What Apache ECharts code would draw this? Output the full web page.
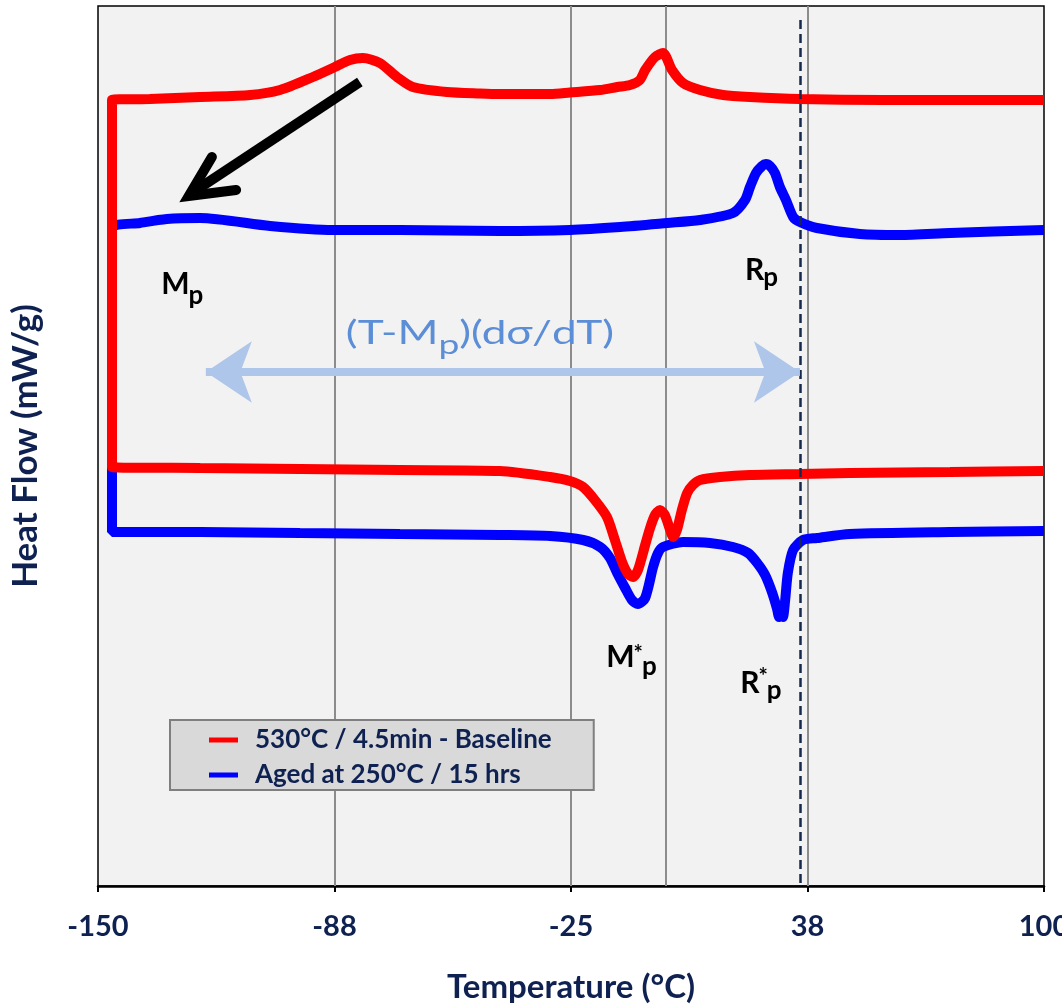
<!DOCTYPE html>
<html>
<head>
<meta charset="utf-8">
<title>Heat Flow vs Temperature</title>
<script src="https://cdn.jsdelivr.net/npm/echarts@6/dist/echarts.min.js"></script>
<style>
  html, body { margin: 0; padding: 0; background: #fff; }
  #chart { width: 1062px; height: 1006px; }
</style>
</head>
<body>
<div id="chart"></div>
<script>
// ==============================================================
// DSC loops: heat flow vs temperature
// ==============================================================
var xTicks = [-150, -87.5, -25, 37.5, 100];
var gridLinesX = [-87.5, -25, 0, 37.5];
var dashedX = 35.5;

var redName = '530°C / 4.5min - Baseline';
var blueName = 'Aged at 250°C / 15 hrs';

// red loop: upper branch right -> left, down the left side, lower branch left -> right
var redT = [100, 75.2, 57.5, 35.5, 22.3, 15.2, 9.1, 4.6, 1.7, -0.7, -2.8, -5.4, -6.8, -9.4, -12.8, -17.3, -25.3, -30.5,
  -43.8, -49.0, -57.8, -66.8, -71.0, -75.5, -80.0, -83.4, -87.4, -93.2, -101.9, -109.8, -123.0, -136.3, -146.3,
  -146.3, -123.0, -96.6, -70.2, -43.8, -30.5, -25.3, -21.8, -18.7, -15.5, -13.4, -11.5, -9.9, -8.6, -7.3, -5.4,
  -4.1, -2.8, -1.5, -0.2, 1.2, 2.0, 3.0, 4.3, 5.7, 7.2, 9.1, 14.4, 22.3, 35.5, 48.7, 75.2, 100];
var redHF = [7.86, 7.86, 7.86, 7.87, 7.89, 7.91, 7.96, 8.03, 8.16, 8.33, 8.29, 8.16, 8.06, 8.01, 7.99, 7.96, 7.935, 7.92,
  7.92, 7.925, 7.94, 7.99, 8.09, 8.23, 8.28, 8.26, 8.19, 8.09, 7.96, 7.91, 7.89, 7.87, 7.86,
  4.19, 4.18, 4.17, 4.16, 4.15, 4.09, 4.05, 3.99, 3.86, 3.69, 3.46, 3.24, 3.12, 3.09, 3.16, 3.41,
  3.58, 3.71, 3.76, 3.71, 3.56, 3.49, 3.56, 3.76, 3.93, 4.01, 4.06, 4.09, 4.11, 4.12, 4.13, 4.14, 4.15];

// blue loop
var blueT = [100, 75.2, 61.9, 51.4, 40.0, 35.5, 33.7, 31.8, 30.2, 28.9, 27.6, 26.5, 25.5, 23.9, 22.3, 21.0, 17.8, 9.1,
  0.4, -12.0, -25.3, -43.8, -70.2, -87.9, -104.5, -123.0, -131.8, -138.9, -146.3,
  -146.3, -123.0, -96.6, -70.2, -43.8, -30.5, -21.8, -17.3, -14.7, -12.8, -10.7, -8.9, -7.3, -5.4, -3.3, -2.0, -0.7,
  4.6, 11.7, 17.8, 21.8, 24.2, 26.3, 28.1, 29.4, 30.0, 30.5, 31.0, 31.6, 32.3, 33.7, 36.3, 40.0, 48.7, 75.2, 100];
var blueHF = [6.56, 6.53, 6.51, 6.52, 6.58, 6.64, 6.69, 6.86, 6.99, 7.13, 7.20, 7.22, 7.20, 7.13, 6.99, 6.86, 6.73, 6.66,
  6.63, 6.59, 6.56, 6.55, 6.56, 6.56, 6.60, 6.68, 6.67, 6.63, 6.58,
  3.54, 3.54, 3.53, 3.52, 3.51, 3.50, 3.46, 3.39, 3.28, 3.13, 2.98, 2.86, 2.82, 2.88, 3.19, 3.33, 3.39,
  3.44, 3.43, 3.39, 3.33, 3.23, 3.11, 2.94, 2.78, 2.69, 2.73, 2.69, 2.86, 3.13, 3.36, 3.46, 3.48, 3.52, 3.54, 3.55];

// annotations, in data coordinates [T, heat flow]; dy = pixel drop of a piece
var arrowShaft = [[-80.8, 8.04], [-125.2, 6.93]];
var arrowHead = [[-119.9, 7.29], [-126.0, 6.90], [-113.5, 6.96]];
var spanArrow = [[-121.5, 5.14], [35.5, 5.14]];
var labels = [
  { at: [-133.3, 6.02], parts: [['M', 30, 0], ['p', 26, 12]] },
  { at: [21.0, 6.16], parts: [['R', 30, 0], ['p', 26, 8]] },
  { at: [-15.7, 2.29], parts: [['M', 30, 0], ['*', 22, -3], ['p', 26, 10]] },
  { at: [19.7, 2.03], parts: [['R', 30, 0], ['*', 22, -6], ['p', 26, 8]] }
];
var formula = { at: [-84.5, 5.52], parts: [['(T-M', 32, 0], ['p', 27, 11], [')(dσ/dT)', 32, 0]] };

var navy = '#0e2150';
var font = 'Lato, "Open Sans", sans-serif';

function zip(a, b) {
  return a.map(function (v, i) { return [v, b[i]]; });
}

var measureCtx = document.createElement('canvas').getContext('2d');
function textWidth(str, size, weight) {
  measureCtx.font = weight + ' ' + size + 'px ' + font;
  return measureCtx.measureText(str).width;
}

var chart = echarts.init(document.getElementById('chart'));
var option = {
  animation: false,
  grid: {
    left: 98, right: 18, top: 6, bottom: 120,
    outerBoundsMode: 'none', containLabel: false,
    show: true, backgroundColor: '#f2f2f2', borderColor: '#000', borderWidth: 1.5
  },
  legend: {
    orient: 'vertical', left: 170, top: 720,
    data: [redName, blueName],
    selectedMode: false,
    icon: 'rect', itemWidth: 29, itemHeight: 5, itemGap: 9,
    padding: [7, 42, 2, 39],
    backgroundColor: '#d9d9d9', borderColor: '#7f7f7f', borderWidth: 2, borderRadius: 0,
    textStyle: { fontFamily: font, fontWeight: 'bold', fontSize: 26, lineHeight: 26, color: navy, padding: [0, 0, 0, 12] }
  },
  xAxis: {
    type: 'value', min: -150, max: 100,
    name: 'Temperature (°C)', nameLocation: 'middle', nameGap: 85,
    nameTextStyle: { fontFamily: font, fontWeight: 'bold', fontSize: 33, color: navy },
    axisLine: { lineStyle: { color: '#000', width: 2.5 } },
    axisTick: { show: true, customValues: xTicks, length: 6, lineStyle: { color: '#000', width: 2 } },
    axisLabel: {
      customValues: xTicks, margin: 26, fontFamily: font, fontWeight: 'bold', fontSize: 29, color: navy,
      hideOverlap: false, showMaxLabel: true, showMinLabel: true,
      formatter: function (v) { return String(v < 0 ? -Math.round(-v) : Math.round(v)); }
    },
    splitLine: { show: false }
  },
  yAxis: {
    type: 'value', min: 0, max: 8.8,
    name: 'Heat Flow (mW/g)', nameLocation: 'middle', nameGap: 55,
    nameTextStyle: { fontFamily: font, fontWeight: 'bold', fontSize: 35, color: navy },
    axisLine: { show: true, lineStyle: { color: '#000', width: 2 } },
    axisTick: { show: false },
    axisLabel: { show: false },
    splitLine: { show: false }
  },
  series: [
    {
      name: blueName, type: 'line', data: zip(blueT, blueHF),
      showSymbol: false, smooth: 0.25, color: '#0000ff',
      lineStyle: { width: 10, color: '#0000ff' },
      markLine: {
        silent: true, symbol: 'none', z: 1,
        label: { show: false },
        lineStyle: { color: '#8c8c8c', width: 2, type: 'solid' },
        data: gridLinesX.map(function (x) { return { xAxis: x }; })
      }
    },
    {
      name: redName, type: 'line', data: zip(redT, redHF),
      showSymbol: false, smooth: 0.25, color: '#ff0000',
      lineStyle: { width: 10, color: '#ff0000' },
      markLine: {
        silent: true, symbol: 'none', z: 10,
        label: { show: false },
        data: [
          [{ coord: [dashedX, 8.66], lineStyle: { color: '#17284d', width: 2.5, type: [9, 5] } },
           { coord: [dashedX, 0] }],
          [{ coord: spanArrow[0], symbol: 'arrow', symbolSize: 46, lineStyle: { color: '#adc6e9', width: 8, type: 'solid' } },
           { coord: spanArrow[1], symbol: 'arrow', symbolSize: 46 }]
        ]
      }
    }
  ]
};
chart.setOption(option);

function toPx(p) {
  return chart.convertToPixel({ gridIndex: 0 }, p);
}

var graphics = [
  {
    type: 'polyline', z: 100, silent: true,
    shape: { points: arrowShaft.map(toPx) },
    style: { stroke: '#000', lineWidth: 10, fill: null, lineCap: 'butt' }
  },
  {
    type: 'polyline', z: 100, silent: true,
    shape: { points: arrowHead.map(toPx) },
    style: { stroke: '#000', lineWidth: 10, fill: null, lineCap: 'round', lineJoin: 'miter' }
  }
];

// lay out text pieces left to right, subscripts dropped by dy
function addPieces(spec, weight, color, scaleX, kern) {
  var p = toPx(spec.at);
  var x = p[0];
  spec.parts.forEach(function (part) {
    graphics.push({
      type: 'text', z: 100, silent: true, x: x, y: p[1] + part[2], scaleX: scaleX,
      style: {
        text: part[0], fill: color, align: 'left', verticalAlign: 'middle',
        font: weight + ' ' + part[1] + 'px ' + font
      }
    });
    x += (textWidth(part[0], part[1], weight) + kern) * scaleX;
  });
}
labels.forEach(function (l) { addPieces(l, 'bold', '#000', 1, -1); });
addPieces(formula, 'normal', '#5b8ed6', 1.38, 0);

chart.setOption({ graphic: graphics });

window.addEventListener('resize', function () { chart.resize(); });
</script>
</body>
</html>
